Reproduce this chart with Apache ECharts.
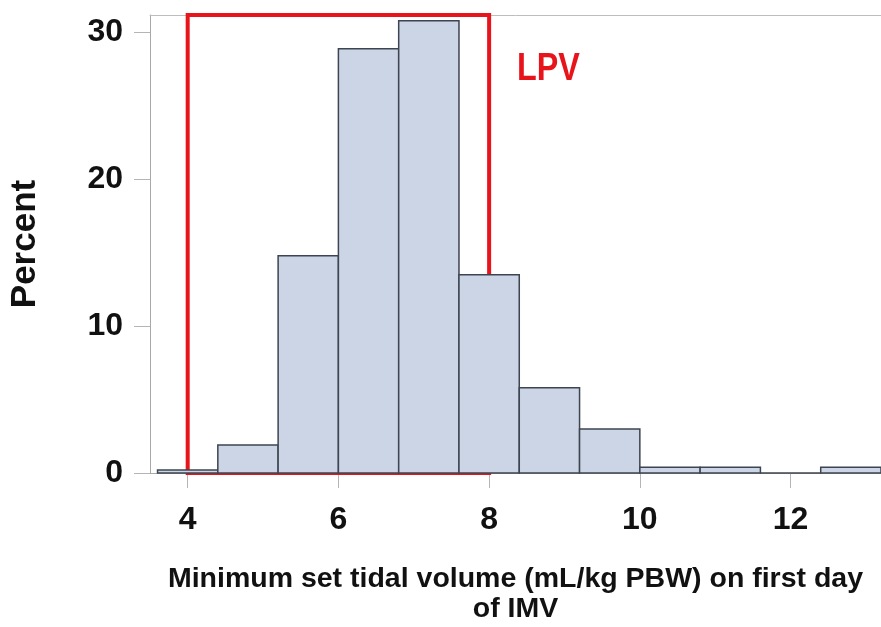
<!DOCTYPE html>
<html>
<head>
<meta charset="utf-8">
<script src="https://cdn.jsdelivr.net/npm/echarts@6/dist/echarts.min.js"></script>
<style>
  html, body { margin: 0; padding: 0; background: #fff; }
  #chart { width: 881px; height: 627px; }
</style>
</head>
<body>
<div id="chart"></div>
<script>
// histogram bins (mL/kg PBW), width 0.8
var binStart = [3.6, 4.4, 5.2, 6.0, 6.8, 7.6, 8.4, 9.2, 10.0, 10.8, 11.6, 12.4];
var binEnd   = [4.4, 5.2, 6.0, 6.8, 7.6, 8.4, 9.2, 10.0, 10.8, 11.6, 12.4, 13.2];
var percent  = [0.2, 1.9, 14.8, 28.9, 30.8, 13.5, 5.8, 3.0, 0.4, 0.4, 0, 0.4];
var xTicks = [4, 6, 8, 10, 12];
var lpvRange = [4, 8];

var xMin = 3.5, xMax = 13.2, yMax = 31.2;
var font = '"Liberation Sans", Arial, sans-serif';

var barData = binStart.map(function (s, i) { return [s, binEnd[i], percent[i]]; });

var chart = echarts.init(document.getElementById('chart'));

chart.setOption({
  animation: false,
  grid: { left: 150, right: 0, top: 15, bottom: 154, outerBoundsMode: 'none' },
  xAxis: [{
    type: 'value',
    min: xMin,
    max: xMax,
    splitLine: { show: false },
    axisLine: { lineStyle: { color: '#a9a9a9', width: 1 } },
    axisTick: { customValues: xTicks, length: 15, lineStyle: { color: '#b5b5b5' } },
    axisLabel: {
      customValues: xTicks, margin: 31,
      fontSize: 32, fontWeight: 'bold', color: '#111', fontFamily: font
    },
    name: 'Minimum set tidal volume (mL/kg PBW) on first day\nof IMV',
    nameLocation: 'middle',
    nameGap: 91,
    nameTextStyle: {
      fontSize: 28.5, fontWeight: 'bold', color: '#111', fontFamily: font,
      lineHeight: 30, align: 'center'
    }
  }, {
    type: 'value', position: 'top', min: xMin, max: xMax,
    axisLine: { show: true, onZero: false, lineStyle: { color: '#bdbdbd', width: 1 } },
    axisTick: { show: false }, axisLabel: { show: false }, splitLine: { show: false }
  }],
  yAxis: {
    type: 'value',
    min: 0,
    max: yMax,
    interval: 10,
    splitLine: { show: false },
    axisLine: { show: true, lineStyle: { color: '#a9a9a9', width: 1 } },
    axisTick: { show: true, length: 16, lineStyle: { color: '#b5b5b5' } },
    axisLabel: {
      margin: 27, fontSize: 32, fontWeight: 'bold', color: '#111', fontFamily: font,
      showMaxLabel: false
    },
    name: 'Percent',
    nameLocation: 'middle',
    nameGap: 107,
    nameRotate: 90,
    nameTextStyle: { fontSize: 35, fontWeight: 'bold', color: '#111', fontFamily: font }
  },
  graphic: [{
    type: 'text',
    left: 517,
    top: 51,
    style: {
      text: 'LPV',
      fill: '#e8141b',
      font: 'bold 38px ' + font
    },
    scaleX: 0.85
  }],
  series: [{
    type: 'custom',
    z: 2,
    data: barData,
    encode: { x: [0, 1], y: 2 },
    renderItem: function (params, api) {
      var p0 = api.coord([api.value(0), 0]);
      var p1 = api.coord([api.value(1), api.value(2)]);
      return {
        type: 'rect',
        shape: { x: p0[0], y: p1[1], width: p1[0] - p0[0], height: p0[1] - p1[1] },
        style: { fill: '#cbd5e6', stroke: '#3d4550', lineWidth: 1.5 }
      };
    }
  }, {
    type: 'custom',
    z: 5,
    data: [],
    renderItem: function () { return null; },
    markArea: {
      silent: true,
      itemStyle: { color: 'rgba(0,0,0,0)', borderColor: '#e8141b', borderWidth: 4 },
      data: [[{ coord: [lpvRange[0], 0] }, { coord: [lpvRange[1], yMax] }]]
    }
  }]
});
</script>
</body>
</html>
